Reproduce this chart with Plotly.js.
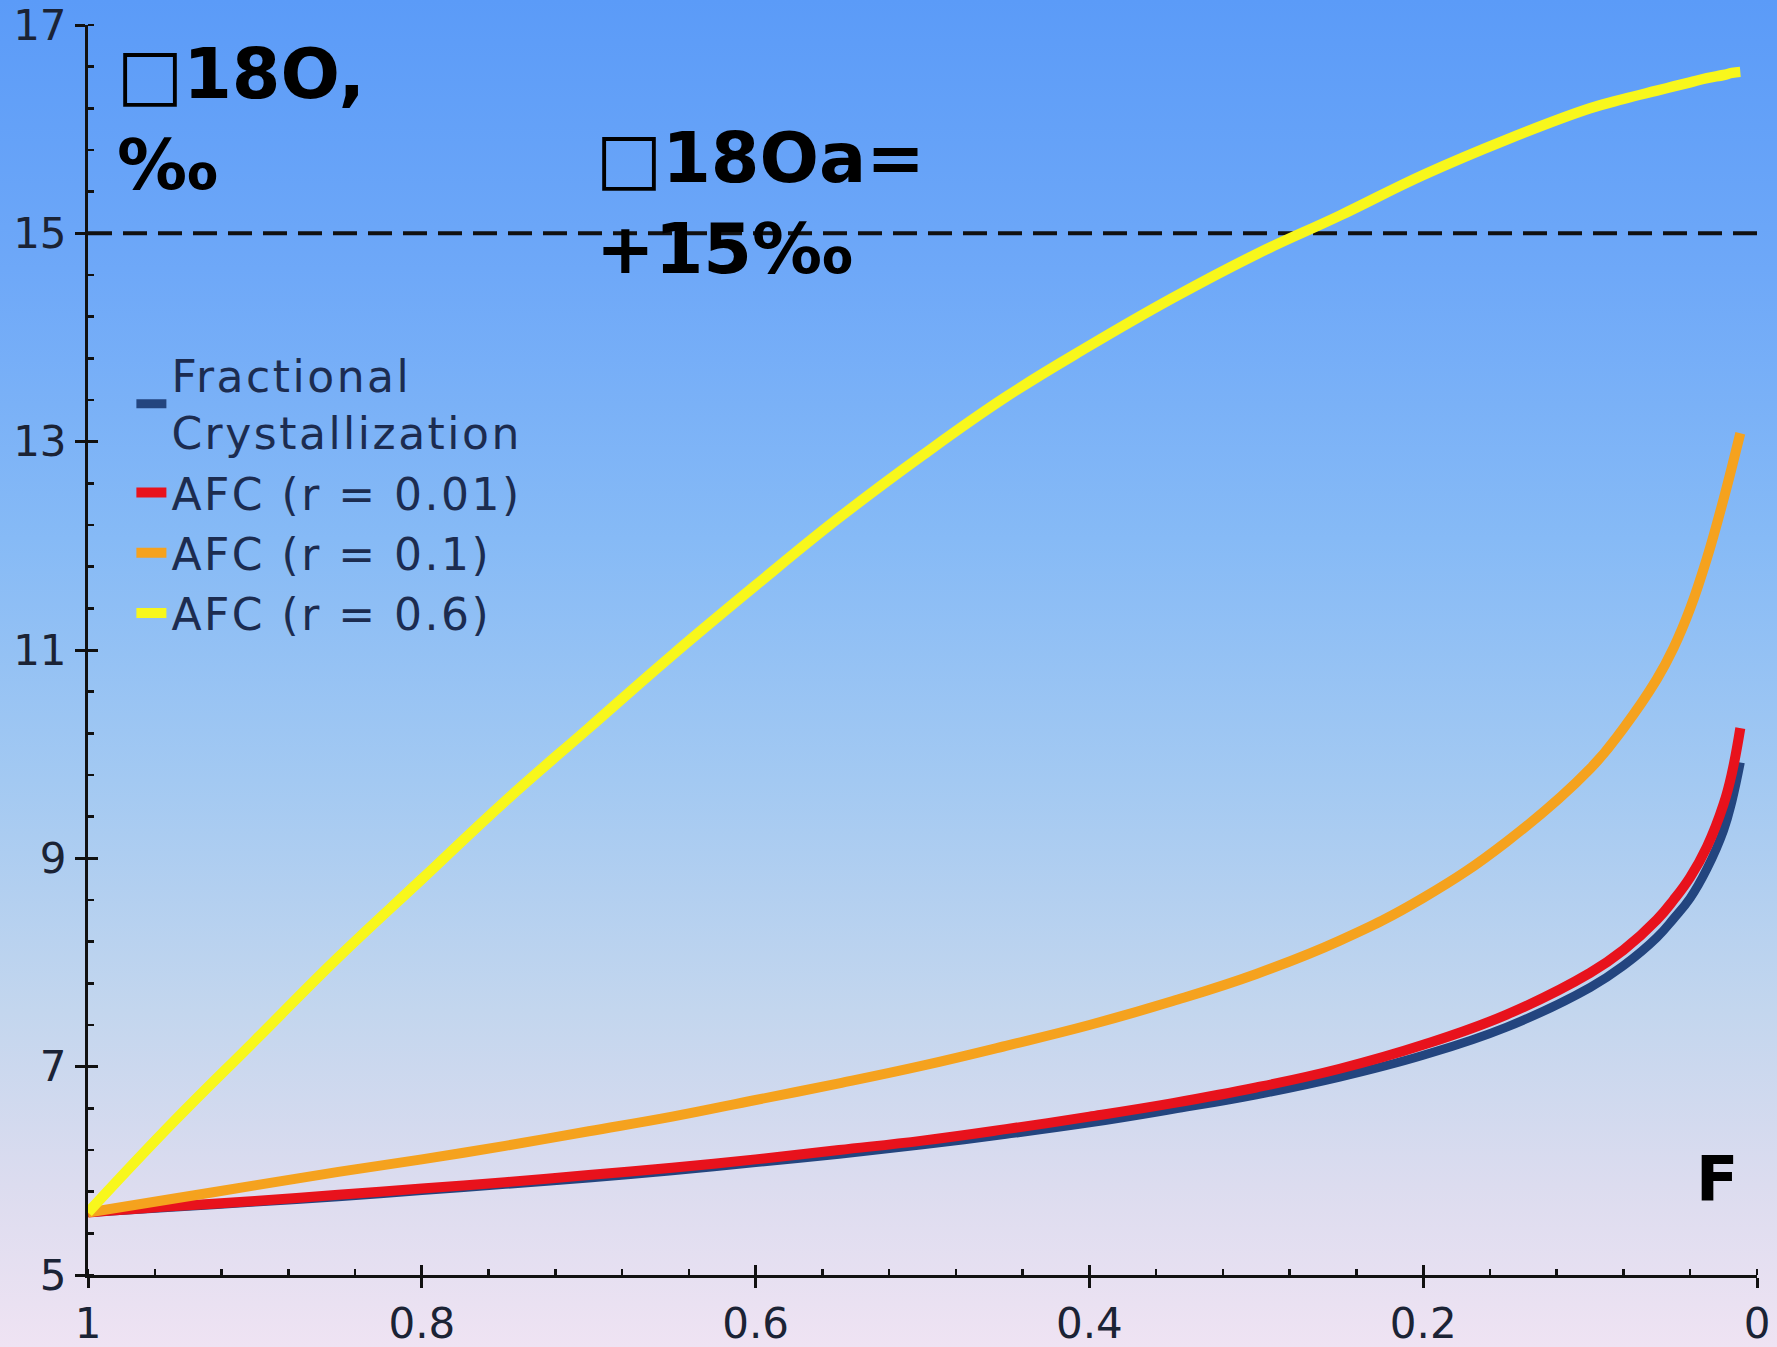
<!DOCTYPE html>
<html>
<head>
<meta charset="utf-8">
<script src="https://cdn.plot.ly/plotly-3.0.1.min.js"></script>
<style>
  html, body { margin:0; padding:0; width:1777px; height:1347px; overflow:hidden; }
  body { background: linear-gradient(180deg, #5b9bf8 0%, #6ea8f8 20%, #86baf6 40%, #a3c9f2 58%, #c3d6ee 75%, #dcdcef 88%, #efe3f3 100%); }
  #chart { width:1777px; height:1347px; }
  .legendtext { letter-spacing: 2.5px; }
</style>
</head>
<body>
<div id="chart"></div>
<script>
// Melt fraction F (x axis, decreasing)
const F = [1, 0.95, 0.9, 0.85, 0.8, 0.75, 0.7, 0.65, 0.6, 0.55, 0.5, 0.45, 0.4, 0.35, 0.3, 0.25, 0.2, 0.15, 0.1, 0.08, 0.06, 0.05, 0.04, 0.03, 0.02, 0.015, 0.01];

// δ18O values
const fractional = [5.6, 5.65, 5.70, 5.75, 5.81, 5.87, 5.93, 6.00, 6.08, 6.16, 6.25, 6.35, 6.46, 6.59, 6.73, 6.90, 7.11, 7.38, 7.76, 7.97, 8.24, 8.42, 8.62, 8.90, 9.27, 9.55, 9.92];
const afc001 = [5.6, 5.66, 5.71, 5.77, 5.83, 5.89, 5.96, 6.03, 6.11, 6.20, 6.29, 6.40, 6.52, 6.65, 6.80, 6.98, 7.21, 7.50, 7.90, 8.12, 8.41, 8.60, 8.82, 9.11, 9.52, 9.82, 10.25];
const afc01 = [5.6, 5.73, 5.86, 5.99, 6.11, 6.24, 6.38, 6.52, 6.68, 6.84, 7.01, 7.20, 7.40, 7.63, 7.89, 8.21, 8.62, 9.16, 9.86, 10.25, 10.72, 11.02, 11.40, 11.88, 12.45, 12.76, 13.08];
const afc06 = [5.6, 6.45, 7.25, 8.05, 8.80, 9.55, 10.25, 10.95, 11.62, 12.27, 12.87, 13.43, 13.92, 14.38, 14.80, 15.17, 15.56, 15.90, 16.20, 16.29, 16.37, 16.41, 16.45, 16.49, 16.52, 16.54, 16.55];

// Reference level
const refLevel = 15;
const refX = [1, 0];

const seriesNames = ["Fractional<br>Crystallization", "AFC (r = 0.01)", "AFC (r = 0.1)", "AFC (r = 0.6)"];

const xTickVals = [1, 0.8, 0.6, 0.4, 0.2, 0];
const xTickText = ["1", "0.8", "0.6", "0.4", "0.2", "0"];
const yTickVals = [5, 7, 9, 11, 13, 15, 17];
const yTickText = ["5", "7", "9", "11", "13", "15", "17"];

const traces = [
  { x: refX, y: refX.map(() => refLevel), mode: 'lines', showlegend: false, hoverinfo: 'skip',
    line: { color: '#111111', width: 4, dash: '24px,11px' } },
  { x: F, y: fractional, name: seriesNames[0], mode: 'lines', line: { color: '#23457f', width: 9, shape: 'spline', smoothing: 1.2 } },
  { x: F, y: afc001, name: seriesNames[1], mode: 'lines', line: { color: '#e8121c', width: 10, shape: 'spline', smoothing: 1.2 } },
  { x: F, y: afc01, name: seriesNames[2], mode: 'lines', line: { color: '#f5a21e', width: 10, shape: 'spline', smoothing: 1.2 } },
  { x: F, y: afc06, name: seriesNames[3], mode: 'lines', line: { color: '#f8f71c', width: 10.5, shape: 'spline', smoothing: 1.2 } },
  { x: [], y: [], xaxis: 'x2', yaxis: 'y2', showlegend: false, hoverinfo: 'skip', mode: 'lines' }
];

const tickFont = { family: 'DejaVu Sans', size: 42, color: '#1b2335' };
const axCol = '#111111';

const layout = {
  width: 1777, height: 1347,
  margin: { l: 88, r: 20, t: 25, b: 72, pad: 0 },
  paper_bgcolor: 'rgba(0,0,0,0)',
  plot_bgcolor: 'rgba(0,0,0,0)',
  showlegend: true,
  legend: {
    x: 0.026, y: 0.748, xanchor: 'left', yanchor: 'top',
    bgcolor: 'rgba(0,0,0,0)', borderwidth: 0,
    font: { family: 'DejaVu Sans', size: 44, color: '#1c2c50' },
    tracegroupgap: 0, itemwidth: 30
  },
  xaxis: {
    range: [1, 0], showgrid: false, zeroline: false,
    showline: true, linecolor: axCol, linewidth: 3,
    tickmode: 'array', tickvals: xTickVals, ticktext: xTickText,
    ticks: 'outside', ticklen: 10, tickwidth: 3, tickcolor: axCol,
    tickfont: tickFont, ticklabelstandoff: 0,
    minor: { dtick: 0.04, tick0: 0, ticks: 'inside', ticklen: 6, tickwidth: 2.5, tickcolor: axCol, showgrid: false }
  },
  yaxis: {
    range: [5, 17], showgrid: false, zeroline: false,
    showline: true, linecolor: axCol, linewidth: 3,
    tickmode: 'array', tickvals: yTickVals, ticktext: yTickText,
    ticks: 'outside', ticklen: 10, tickwidth: 3, tickcolor: axCol,
    tickfont: tickFont, ticklabelstandoff: 0,
    minor: { dtick: 0.4, tick0: 5, ticks: 'inside', ticklen: 6, tickwidth: 2.5, tickcolor: axCol, showgrid: false }
  },
  xaxis2: {
    overlaying: 'x', anchor: 'y2', side: 'bottom', range: [1, 0],
    showgrid: false, zeroline: false, showline: false, showticklabels: false,
    tickmode: 'array', tickvals: xTickVals,
    ticks: 'inside', ticklen: 10, tickwidth: 3, tickcolor: axCol
  },
  yaxis2: {
    overlaying: 'y', anchor: 'x2', side: 'left', range: [5, 17],
    showgrid: false, zeroline: false, showline: false, showticklabels: false,
    tickmode: 'array', tickvals: yTickVals,
    ticks: 'inside', ticklen: 10, tickwidth: 3, tickcolor: axCol
  },
  annotations: [
    { xref: 'paper', yref: 'paper', x: 0.016, y: 0.995, xanchor: 'left', yanchor: 'top', align: 'left',
      showarrow: false, text: '<b>□18O,<br>‰</b>',
      font: { family: 'DejaVu Sans', size: 70, color: '#000000' } },
    { xref: 'paper', yref: 'paper', x: 0.303, y: 0.928, xanchor: 'left', yanchor: 'top', align: 'left',
      showarrow: false, text: '<b>□18Oa=<br>+15‰</b>',
      font: { family: 'DejaVu Sans', size: 70, color: '#000000' } },
    { xref: 'paper', yref: 'paper', x: 0.962, y: 0.108, xanchor: 'left', yanchor: 'top', align: 'left',
      showarrow: false, text: '<b>F</b>',
      font: { family: 'DejaVu Sans', size: 62, color: '#000000' } }
  ]
};

Plotly.newPlot('chart', traces, layout, { staticPlot: true, displayModeBar: false });
</script>
</body>
</html>
